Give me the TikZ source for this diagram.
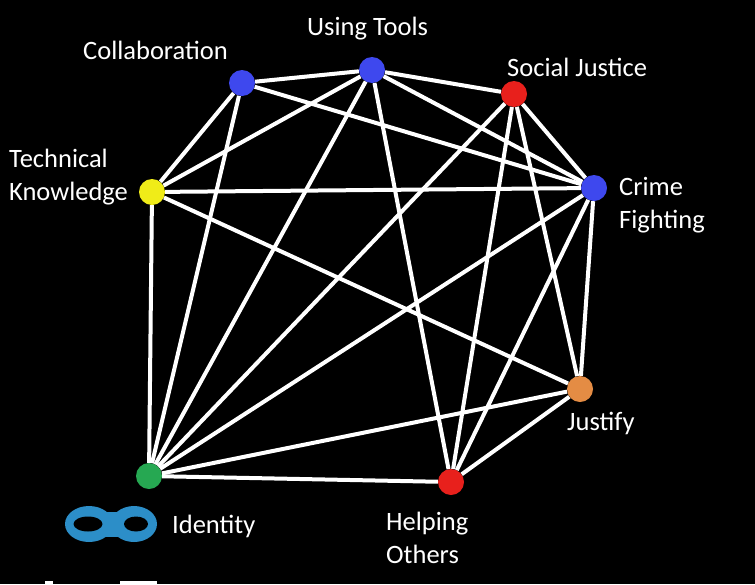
\documentclass[tikz,border=0pt]{standalone}
\usepackage{fontspec}
\setmainfont{Carlito}
\definecolor{dotblue}{RGB}{62,72,238}
\definecolor{dotred}{RGB}{232,32,28}
\definecolor{dotyellow}{RGB}{240,236,24}
\definecolor{dotgreen}{RGB}{38,168,82}
\definecolor{dotorange}{RGB}{228,140,68}
\definecolor{maskblue}{RGB}{44,142,200}
\tikzset{
  dot/.style={circle, inner sep=0pt, minimum size=26pt},
  link/.style={white, line width=4pt},
  lbl/.style={text=white, inner sep=0pt, font=\fontsize{26.5}{32.5}\selectfont, align=left},
}
\begin{document}
\begin{tikzpicture}[x=1pt, y=-1pt]
  % 背景
  \fill[black] (0,0) rectangle (755,584);
  % 绘制节点
  \node[dot, fill=dotblue]   (collab)  at (242,83)  {};
  \node[dot, fill=dotblue]   (tools)   at (372,70)  {};
  \node[dot, fill=dotred]    (justice) at (514,94)  {};
  \node[dot, fill=dotblue]   (crime)   at (594,188) {};
  \node[dot, fill=dotorange] (justify) at (580,389) {};
  \node[dot, fill=dotred]    (helping) at (451,482) {};
  \node[dot, fill=dotgreen]  (ident)   at (149,476) {};
  \node[dot, fill=dotyellow] (tech)    at (152,192) {};
  % 绘制连线
  \foreach \a/\b in {collab/tools, collab/tech, collab/ident, collab/crime,
                     tools/justice, tools/tech, tools/ident, tools/helping, tools/crime,
                     justice/crime, justice/ident, justice/helping, justice/justify,
                     tech/crime, tech/justify, tech/ident,
                     crime/ident, crime/helping, crime/justify,
                     ident/justify, ident/helping, helping/justify}
    \draw[link] (\a) -- (\b);
  % 标签
  \node[lbl, anchor=base west] (collabL)  at (83,59)   {Collaboration};
  \node[lbl, anchor=base west] (toolsL)   at (307,35)  {Using Tools};
  \node[lbl, anchor=base west] (justiceL) at (507,76)  {Social Justice};
  \node[lbl, anchor=base west] (techL)    at (9,200)   {Technical\\Knowledge};
  \node[lbl, anchor=base west] (crimeL)   at (619,228) {Crime\\Fighting};
  \node[lbl, anchor=base west] (justifyL) at (567,430) {Justify};
  \node[lbl, anchor=base west] (helpingL) at (386,563) {Helping\\Others};
  \node[lbl, anchor=base west] (identL)   at (172,533) {Identity};
  % 面具
  \fill[maskblue] (89,524) ellipse (24 and 18);
  \fill[maskblue] (134,524) ellipse (23 and 18);
  \fill[maskblue] (100,512) rectangle (124,537);
  \fill[black] (88,524) ellipse (14.5 and 7.5);
  \fill[black] (136,524) ellipse (12 and 7.5);
  % 底部残字
  \fill[white] (45,581) rectangle (53,584);
  \fill[white] (120,581) rectangle (157,584);
\end{tikzpicture}
\end{document}
